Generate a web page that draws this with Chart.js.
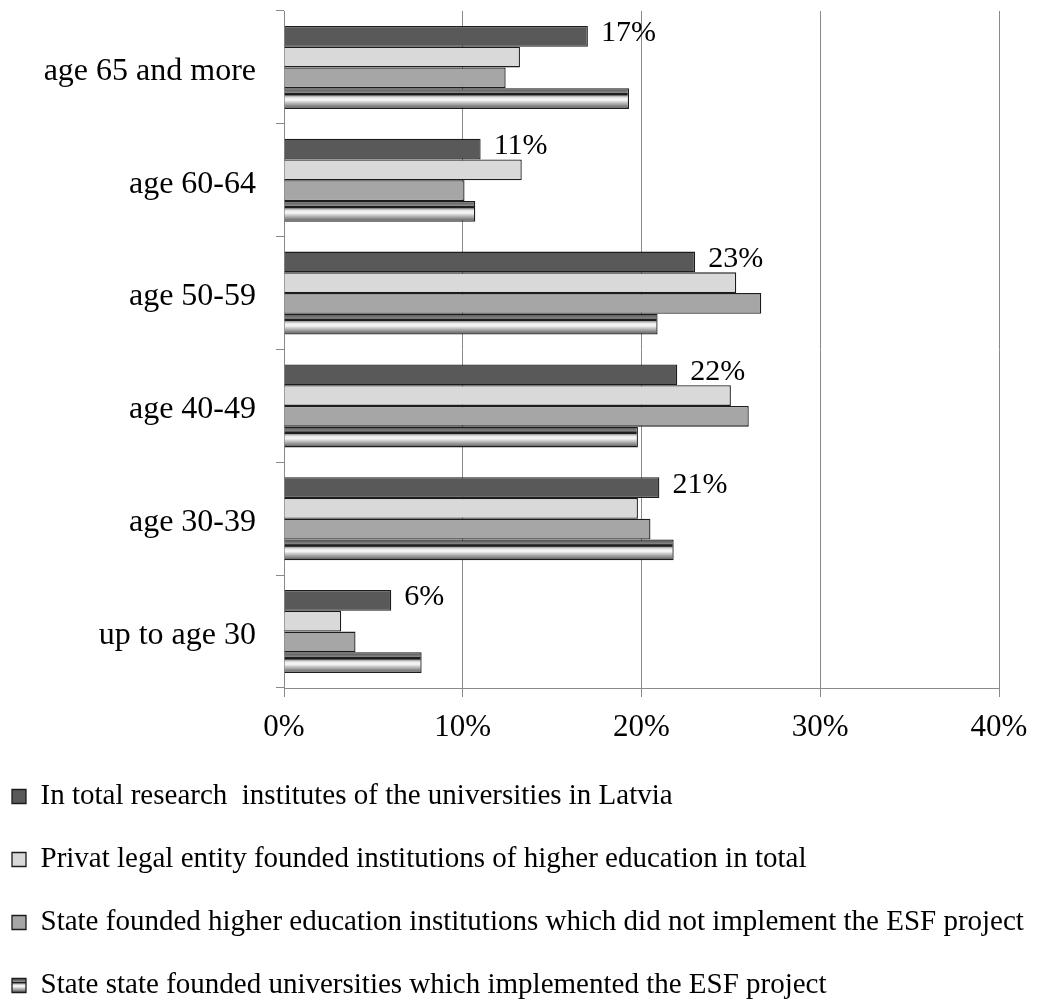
<!DOCTYPE html>
<html>
<head>
<meta charset="utf-8">
<title>Age structure of academic staff</title>
<script src="https://cdn.jsdelivr.net/npm/chart.js@4/dist/chart.umd.min.js"></script>
<style>
  html, body { margin: 0; padding: 0; background: #ffffff; overflow: hidden; }
  #wrap { position: relative; width: 1037px; height: 1000px; }
</style>
</head>
<body>
<div id="wrap"><canvas id="chart"></canvas></div>
<script>
// Age groups, top to bottom
const ageGroups = ['age 65 and more', 'age 60-64', 'age 50-59', 'age 40-49', 'age 30-39', 'up to age 30'];

// Share of staff in each age group, %
const researchInstitutes = [17, 11, 23, 22, 21, 6];
const privateInstitutions = [13.2, 13.3, 25.3, 25.0, 19.8, 3.2];
const stateNoEsf = [12.4, 10.1, 26.7, 26.0, 20.5, 4.0];
const stateWithEsf = [19.3, 10.7, 20.9, 19.8, 21.8, 7.7];

const seriesNames = [
  'In total research  institutes of the universities in Latvia',
  'Privat legal entity founded institutions of higher education in total',
  'State founded higher education institutions which did not implement the ESF project',
  'State state founded universities which implemented the ESF project'
];

const xTicks = [0, 10, 20, 30, 40];

const SERIF = "'Liberation Serif', 'Times New Roman', serif";
const GRID = '#8a8a8a';
const EDGE = '#1c1c1c';

// Metallic banded fill used by the ESF universities series
const stripeStops = [
  [0.00, '#585858'], [0.12, '#6c6c6c'], [0.22, '#8a8a8a'],
  [0.25, '#1e1e1e'], [0.33, '#1e1e1e'], [0.37, '#a4a4a4'],
  [0.47, '#eeeeee'], [0.58, '#f6f6f6'], [0.70, '#c4c4c4'],
  [0.85, '#8a8a8a'], [1.00, '#545454']
];
function stripeGradient(ctx, top, bottom) {
  const g = ctx.createLinearGradient(0, top, 0, bottom);
  stripeStops.forEach(([o, c]) => g.addColorStop(o, c));
  return g;
}

// Gives each banded bar (and its legend swatch) a gradient aligned to its own edges
const bandedFill = {
  id: 'bandedFill',
  beforeDatasetsDraw(chart) {
    const meta = chart.getDatasetMeta(3);
    meta.data.forEach(bar => {
      const half = bar.height / 2;
      bar.options.backgroundColor = stripeGradient(chart.ctx, bar.y - half, bar.y + half);
    });
  },
  beforeDraw(chart) {
    const lg = chart.legend;
    if (!lg || !lg.legendHitBoxes || !lg.legendHitBoxes[3]) return;
    const hb = lg.legendHitBoxes[3];
    const box = 14;
    const top = hb.top + (hb.height - box) / 2;
    lg.legendItems[3].fillStyle = stripeGradient(chart.ctx, top, top + box);
  }
};

// Percentage written beside each bar of the first series
const valueLabels = {
  id: 'valueLabels',
  afterDatasetsDraw(chart) {
    const ctx = chart.ctx;
    const meta = chart.getDatasetMeta(0);
    ctx.save();
    ctx.font = '30px ' + SERIF;
    ctx.fillStyle = '#000000';
    ctx.textAlign = 'left';
    ctx.textBaseline = 'middle';
    meta.data.forEach((bar, i) => {
      ctx.fillText(Math.round(researchInstitutes[i]) + '%', bar.x + 13, bar.y - 3);
    });
    ctx.restore();
  }
};

const seriesColors = ['#595959', '#d9d9d9', '#a6a6a6', '#9a9a9a'];
const seriesValues = [researchInstitutes, privateInstitutions, stateNoEsf, stateWithEsf];

const datasets = seriesValues.map((values, i) => ({
  label: seriesNames[i],
  data: values,
  backgroundColor: i === 3 ? (() => seriesColors[3]) : seriesColors[i],
  borderColor: EDGE,
  borderWidth: 1.3,
  borderSkipped: 'start',
  categoryPercentage: 0.735,
  barPercentage: 1.0
}));

new Chart(document.getElementById('chart'), {
  type: 'bar',
  data: { labels: ageGroups, datasets },
  plugins: [bandedFill, valueLabels],
  options: {
    indexAxis: 'y',
    responsive: true,
    maintainAspectRatio: false,
    animation: false,
    layout: { padding: { top: 11, right: 0, bottom: -10, left: -22 } },
    scales: {
      x: {
        min: 0,
        max: 40,
        afterBuildTicks(scale) { scale.ticks = xTicks.map(v => ({ value: v })); },
        afterFit(scale) {
          scale.height = 60;
          scale.paddingRight = 38;
        },
        ticks: {
          callback: v => v + '%',
          font: { family: SERIF, size: 31 },
          color: '#000000',
          padding: 12,
          maxRotation: 0
        },
        grid: { color: GRID, lineWidth: 1, tickLength: 9, drawTicks: true },
        border: { color: GRID, width: 1 }
      },
      y: {
        afterFit(scale) {
          scale.width = 306;
          scale.paddingTop = 0;
          scale.paddingBottom = 0;
        },
        ticks: {
          font: { family: SERIF, size: 32 },
          color: '#000000',
          padding: 20,
          labelOffset: 4
        },
        grid: { drawOnChartArea: false, color: GRID, tickLength: 8, offset: true },
        border: { color: GRID, width: 1 }
      }
    },
    plugins: {
      legend: {
        position: 'bottom',
        align: 'start',
        labels: {
          font: { family: SERIF, size: 29 },
          color: '#000000',
          boxWidth: 14,
          boxHeight: 14,
          padding: 34
        }
      },
      tooltip: { enabled: false }
    }
  }
});
</script>
</body>
</html>
